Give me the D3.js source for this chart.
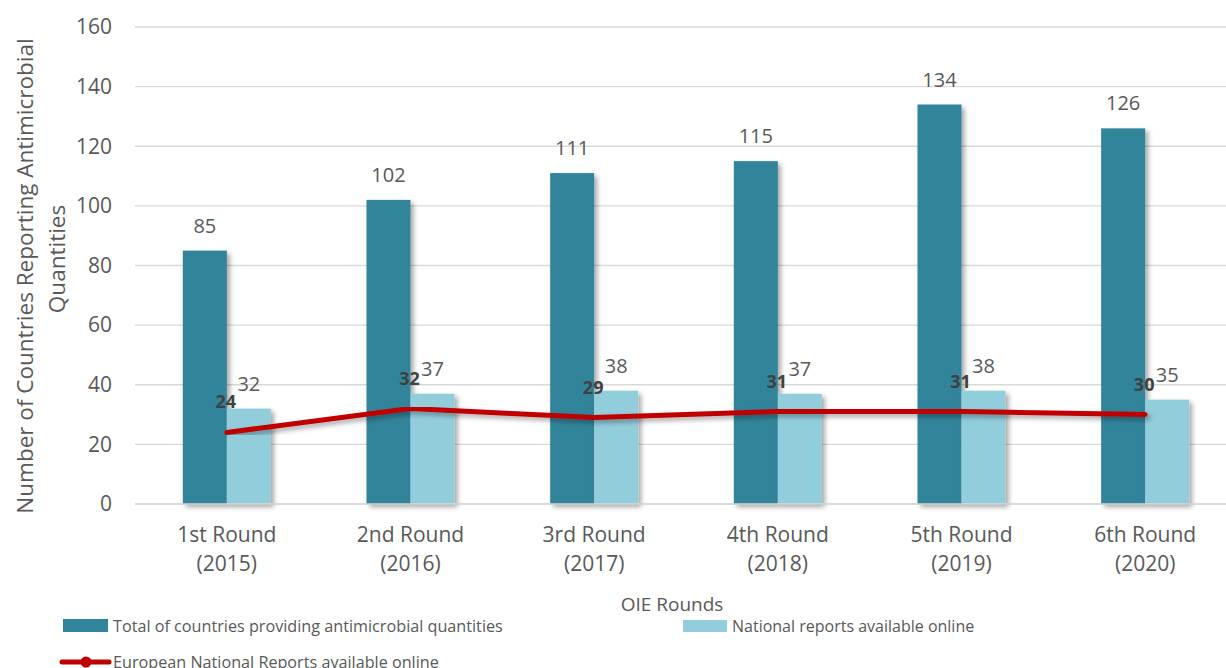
<!DOCTYPE html>
<html>
<head>
<meta charset="utf-8">
<script src="https://cdn.jsdelivr.net/npm/d3@7"></script>
<style>
  body { margin: 0; background: #fff; overflow: hidden; }
  text { font-family: "Open Sans", sans-serif; fill: #595959; }
</style>
</head>
<body>
<div id="chart"></div>
<script>
var svgWidth = 1226;
var svgHeight = 668;

// chart data
var rounds = ["1st Round", "2nd Round", "3rd Round", "4th Round", "5th Round", "6th Round"];
var years = ["(2015)", "(2016)", "(2017)", "(2018)", "(2019)", "(2020)"];
var totalCountries = [85, 102, 111, 115, 134, 126];
var nationalReports = [32, 37, 38, 37, 38, 35];
var europeanReports = [24, 32, 29, 31, 31, 30];
var yTicks = [0, 20, 40, 60, 80, 100, 120, 140, 160];

var margin = { top: 27, left: 135 };
var plotRight = 1237;
var plotBottom = 504;

var svg = d3.select("#chart")
  .append("svg")
  .attr("width", svgWidth)
  .attr("height", svgHeight);

// soft drop shadow like the original bars
var defs = svg.append("defs");
defs.append("filter")
  .attr("id", "shadow")
  .attr("x", "-20%").attr("y", "-5%")
  .attr("width", "160%").attr("height", "115%")
  .append("feDropShadow")
  .attr("dx", 3).attr("dy", 3)
  .attr("stdDeviation", 2.5)
  .attr("flood-color", "#000")
  .attr("flood-opacity", 0.35);

var xScale = d3.scaleBand()
  .domain(rounds)
  .range([margin.left, plotRight]);

var yScale = d3.scaleLinear()
  .domain([0, 160])
  .range([plotBottom, margin.top]);

var barW = 44;

// gridlines
svg.append("g")
  .selectAll("line")
  .data(yTicks)
  .enter()
  .append("line")
  .attr("x1", margin.left)
  .attr("x2", plotRight)
  .attr("y1", d => yScale(d))
  .attr("y2", d => yScale(d))
  .attr("stroke", "#d9d9d9")
  .attr("stroke-width", 1.3);

// y tick labels
svg.append("g")
  .selectAll("text")
  .data(yTicks)
  .enter()
  .append("text")
  .attr("x", 112)
  .attr("y", d => yScale(d))
  .attr("dy", "0.35em")
  .attr("text-anchor", "end")
  .style("font-size", "21px")
  .text(d => d);

// bars
var groups = svg.append("g")
  .selectAll("g")
  .data(rounds)
  .enter()
  .append("g");

groups.append("rect")
  .attr("x", d => xScale(d) + xScale.bandwidth() / 2 - barW)
  .attr("y", (d, i) => yScale(totalCountries[i]))
  .attr("width", barW)
  .attr("height", (d, i) => plotBottom - yScale(totalCountries[i]))
  .attr("fill", "#31849b")
  .attr("filter", "url(#shadow)");

groups.append("rect")
  .attr("x", d => xScale(d) + xScale.bandwidth() / 2)
  .attr("y", (d, i) => yScale(nationalReports[i]))
  .attr("width", barW)
  .attr("height", (d, i) => plotBottom - yScale(nationalReports[i]))
  .attr("fill", "#92cddc")
  .attr("filter", "url(#shadow)");

// bar value labels
groups.append("text")
  .attr("x", d => xScale(d) + xScale.bandwidth() / 2 - barW / 2)
  .attr("y", (d, i) => yScale(totalCountries[i]) - 18)
  .attr("text-anchor", "middle")
  .style("font-size", "20px")
  .text((d, i) => totalCountries[i]);

groups.append("text")
  .attr("x", d => xScale(d) + xScale.bandwidth() / 2 + barW / 2)
  .attr("y", (d, i) => yScale(nationalReports[i]) - 18)
  .attr("text-anchor", "middle")
  .style("font-size", "20px")
  .text((d, i) => nationalReports[i]);

// x axis line
svg.append("line")
  .attr("x1", margin.left)
  .attr("x2", plotRight)
  .attr("y1", plotBottom)
  .attr("y2", plotBottom)
  .attr("stroke", "#d9d9d9")
  .attr("stroke-width", 1.3);

// european line
var line = d3.line()
  .x((d, i) => xScale(rounds[i]) + xScale.bandwidth() / 2)
  .y(d => yScale(d));

svg.append("path")
  .datum(europeanReports)
  .attr("d", line)
  .attr("fill", "none")
  .attr("stroke", "#c00000")
  .attr("stroke-width", 5)
  .attr("stroke-linecap", "round")
  .attr("stroke-linejoin", "round")
  .attr("filter", "url(#shadow)");

svg.append("g")
  .selectAll("text")
  .data(europeanReports)
  .enter()
  .append("text")
  .attr("x", (d, i) => xScale(rounds[i]) + xScale.bandwidth() / 2 - 1)
  .attr("y", d => yScale(d) - 24)
  .attr("text-anchor", "middle")
  .style("font-size", "18px")
  .style("font-weight", "bold")
  .style("fill", "#404040")
  .text(d => d);

// category labels
var catLabels = svg.append("g")
  .selectAll("text")
  .data(rounds)
  .enter()
  .append("text")
  .attr("x", d => xScale(d) + xScale.bandwidth() / 2)
  .attr("text-anchor", "middle")
  .style("font-size", "21px");

catLabels.append("tspan")
  .attr("x", d => xScale(d) + xScale.bandwidth() / 2)
  .attr("y", 542)
  .text(d => d);

catLabels.append("tspan")
  .attr("x", d => xScale(d) + xScale.bandwidth() / 2)
  .attr("y", 571)
  .text((d, i) => years[i]);

// axis titles
svg.append("text")
  .attr("x", 672)
  .attr("y", 611)
  .attr("text-anchor", "middle")
  .style("font-size", "19px")
  .text("OIE Rounds");

var yTitle = svg.append("text")
  .attr("transform", "rotate(-90)")
  .attr("text-anchor", "middle")
  .style("font-size", "22.5px");

yTitle.append("tspan")
  .attr("x", -276)
  .attr("y", 33)
  .text("Number of Countries Reporting Antimicrobial");

yTitle.append("tspan")
  .attr("x", -259)
  .attr("y", 65)
  .text("Quantities");

// legend
var legend = svg.append("g");

legend.append("rect")
  .attr("x", 63).attr("y", 619)
  .attr("width", 45).attr("height", 13)
  .attr("fill", "#31849b");

legend.append("text")
  .attr("x", 113).attr("y", 626)
  .attr("dy", "0.35em")
  .style("font-size", "16.2px")
  .text("Total of countries providing antimicrobial quantities");

legend.append("rect")
  .attr("x", 683).attr("y", 620)
  .attr("width", 44).attr("height", 12)
  .attr("fill", "#92cddc");

legend.append("text")
  .attr("x", 732).attr("y", 626)
  .attr("dy", "0.35em")
  .style("font-size", "16px")
  .text("National reports available online");

legend.append("line")
  .attr("x1", 62).attr("x2", 109)
  .attr("y1", 662).attr("y2", 662)
  .attr("stroke", "#c00000")
  .attr("stroke-width", 5)
  .attr("stroke-linecap", "round");

legend.append("circle")
  .attr("cx", 86).attr("cy", 662)
  .attr("r", 5.5)
  .attr("fill", "#c00000");

legend.append("text")
  .attr("x", 113).attr("y", 662)
  .attr("dy", "0.35em")
  .style("font-size", "16.2px")
  .text("European National Reports available online");
</script>
</body>
</html>
